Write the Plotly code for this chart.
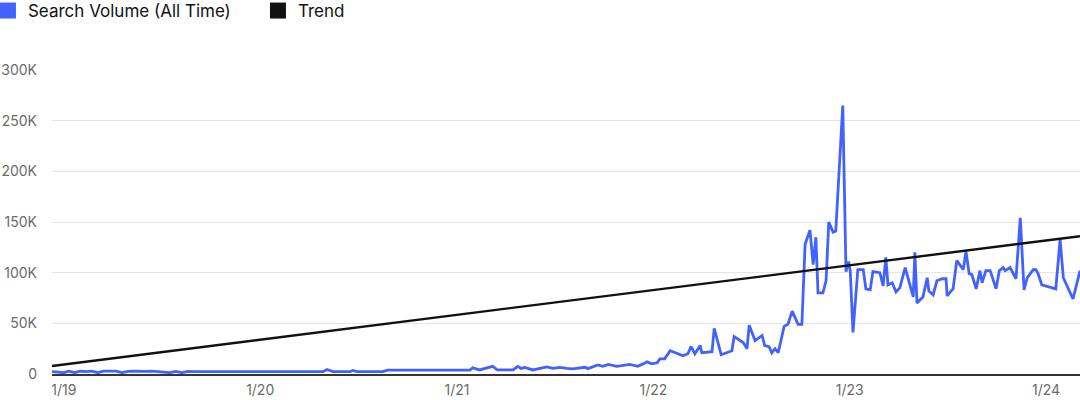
import plotly.graph_objects as go

# ---- data ----
dates = [
    "2018-12-10", "2018-12-21", "2019-01-01", "2019-01-10", "2019-01-21", "2019-01-31",
    "2019-02-11", "2019-02-22", "2019-03-05", "2019-03-16", "2019-03-28", "2019-04-08",
    "2019-04-19", "2019-04-30", "2019-05-11", "2019-05-22", "2019-06-02", "2019-06-14",
    "2019-06-25", "2019-07-06", "2019-07-17", "2019-07-28", "2019-08-08", "2019-08-20",
    "2019-08-31", "2020-04-27", "2020-05-04", "2020-05-15", "2020-06-16", "2020-06-21",
    "2020-06-29", "2020-08-16", "2020-08-25", "2021-01-25", "2021-01-30", "2021-02-12",
    "2021-02-25", "2021-03-08", "2021-03-17", "2021-04-15", "2021-04-24", "2021-04-30",
    "2021-05-07", "2021-05-22", "2021-06-04", "2021-06-17", "2021-06-28", "2021-07-11",
    "2021-07-24", "2021-08-04", "2021-08-27", "2021-09-01", "2021-09-20", "2021-09-29",
    "2021-10-09", "2021-10-25", "2021-11-18", "2021-12-03", "2021-12-13", "2021-12-20",
    "2021-12-29", "2022-01-08", "2022-01-13", "2022-01-22", "2022-02-01", "2022-02-25",
    "2022-03-06", "2022-03-12", "2022-03-19", "2022-03-29", "2022-04-01", "2022-04-20",
    "2022-04-24", "2022-05-07", "2022-05-27", "2022-05-31", "2022-06-17", "2022-06-24",
    "2022-06-28", "2022-07-09", "2022-07-22", "2022-07-27", "2022-08-04", "2022-08-09",
    "2022-08-15", "2022-08-21", "2022-09-01", "2022-09-08", "2022-09-16", "2022-09-27",
    "2022-10-04", "2022-10-10", "2022-10-19", "2022-10-25", "2022-10-30", "2022-11-03",
    "2022-11-12", "2022-11-18", "2022-11-23", "2022-12-01", "2022-12-06", "2022-12-19",
    "2022-12-25", "2022-12-30", "2023-01-02", "2023-01-07", "2023-01-16", "2023-01-26",
    "2023-01-31", "2023-02-08", "2023-02-13", "2023-02-26", "2023-03-04", "2023-03-09",
    "2023-03-13", "2023-03-21", "2023-03-28", "2023-04-04", "2023-04-14", "2023-04-19",
    "2023-04-29", "2023-05-02", "2023-05-06", "2023-05-17", "2023-05-25", "2023-05-28",
    "2023-06-05", "2023-06-12", "2023-06-22", "2023-06-29", "2023-07-01", "2023-07-10",
    "2023-07-12", "2023-07-19", "2023-07-31", "2023-08-05", "2023-08-11", "2023-08-16",
    "2023-08-24", "2023-08-31", "2023-09-04", "2023-09-11", "2023-09-19", "2023-09-30",
    "2023-10-06", "2023-10-13", "2023-10-17", "2023-10-26", "2023-11-06", "2023-11-14",
    "2023-11-21", "2023-11-27", "2023-12-08", "2023-12-13", "2023-12-17", "2023-12-24",
    "2024-01-19", "2024-01-27", "2024-02-02", "2024-02-20", "2024-03-04",
]

search_volume = [
    2300, 2000, 1300, 2800, 1300, 2800,
    2300, 2800, 1300, 2800, 2500, 2800,
    1300, 2500, 2800, 2300, 2500, 2800,
    2300, 2500, 1300, 2500, 1300, 2500,
    2300, 2300, 4500, 2300, 2300, 3500,
    2300, 2300, 3900, 3900, 6000, 4000,
    5500, 7500, 4000, 4000, 7500, 5500,
    6500, 4000, 5500, 7000, 5500, 6600,
    5600, 5000, 6600, 5300, 9000, 7600,
    9500, 7600, 9500, 7600, 10000, 12000,
    10000, 11000, 15000, 15000, 23000, 18000,
    20000, 27000, 20000, 28000, 21000, 22000,
    45000, 19000, 23000, 37000, 31000, 25000,
    48000, 33000, 38000, 28000, 27000, 21000,
    25000, 21000, 47000, 49000, 62000, 49000,
    49000, 128000, 142000, 108000, 135000, 80000,
    80000, 92000, 150000, 140000, 141000, 265000,
    101000, 111000, 101000, 41000, 103000, 103000,
    84000, 83000, 101000, 100000, 87000, 115000,
    88000, 90000, 81000, 85000, 105000, 95000,
    76000, 120000, 70000, 76000, 95000, 82000,
    78000, 92000, 94000, 94000, 77000, 83000,
    84000, 112000, 103000, 121000, 99000, 98000,
    84000, 102000, 90000, 102000, 102000, 84000,
    102000, 105000, 102000, 105000, 94000, 154000,
    83000, 95000, 103000, 103000, 99000, 88000,
    84000, 133000, 95000, 74000, 102000,
]

trend_dates = ["2018-12-10", "2024-03-04"]
trend_values = [7900, 136000]

y_tick_values = [0, 50000, 100000, 150000, 200000, 250000, 300000]
y_tick_labels = ["0", "50K", "100K", "150K", "200K", "250K", "300K"]

series_names = ["Search Volume (All Time)", "Trend"]

BLUE = "#4262ff"
BLACK = "#111111"
FONT = "Inter, Roboto, Noto Sans, sans-serif"

fig = go.Figure()

fig.add_trace(go.Scatter(
    x=dates, y=search_volume, mode="lines", name=series_names[0],
    line=dict(color=BLUE, width=2.8), showlegend=False, legendgroup="sv",
))
fig.add_trace(go.Scatter(
    x=trend_dates, y=trend_values, mode="lines", name=series_names[1],
    line=dict(color=BLACK, width=2.4), showlegend=False, legendgroup="tr",
))
# legend entries with square swatches
fig.add_trace(go.Scatter(
    x=[None], y=[None], mode="markers", name=series_names[0], legendgroup="sv",
    marker=dict(symbol="square", size=17, color=BLUE),
))
fig.add_trace(go.Scatter(
    x=[None], y=[None], mode="markers", name=series_names[1], legendgroup="tr",
    marker=dict(symbol="square", size=17, color=BLACK),
))

fig.update_layout(
    width=1080, height=400,
    margin=dict(l=52, r=0, t=70, b=26, autoexpand=False),
    paper_bgcolor="white", plot_bgcolor="white",
    font=dict(family=FONT, size=14, color="#6b6b6b"),
    showlegend=True,
    legend=dict(
        orientation="h",
        x=-0.0623, xanchor="left", y=1.2533, yanchor="top",
        font=dict(family=FONT, size=17, color=BLACK),
        entrywidth=225, itemsizing="trace",
        bgcolor="rgba(0,0,0,0)",
    ),
    xaxis=dict(
        type="date", range=[trend_dates[0], trend_dates[1]],
        tick0="2019-01-01", dtick="M12", tickformat="%-m/%y",
        showgrid=False, showline=True, linecolor="#333333", linewidth=2,
        ticks="", zeroline=False, ticklabelstandoff=2, automargin=False,
        tickfont=dict(family=FONT, size=14, color="#6b6b6b"),
    ),
    yaxis=dict(
        range=[0, 300000], tickvals=y_tick_values, ticktext=y_tick_labels,
        showgrid=True, gridcolor="#e6e6e6", gridwidth=1, automargin=False,
        zeroline=False, showline=False, ticks="", ticklabelstandoff=14,
        tickfont=dict(family=FONT, size=14, color="#6b6b6b"),
    ),
)

fig.write_html(
    "out.html",
    config={"displayModeBar": False},
    post_script="document.body.style.margin='0';document.body.style.padding='0';",
)
